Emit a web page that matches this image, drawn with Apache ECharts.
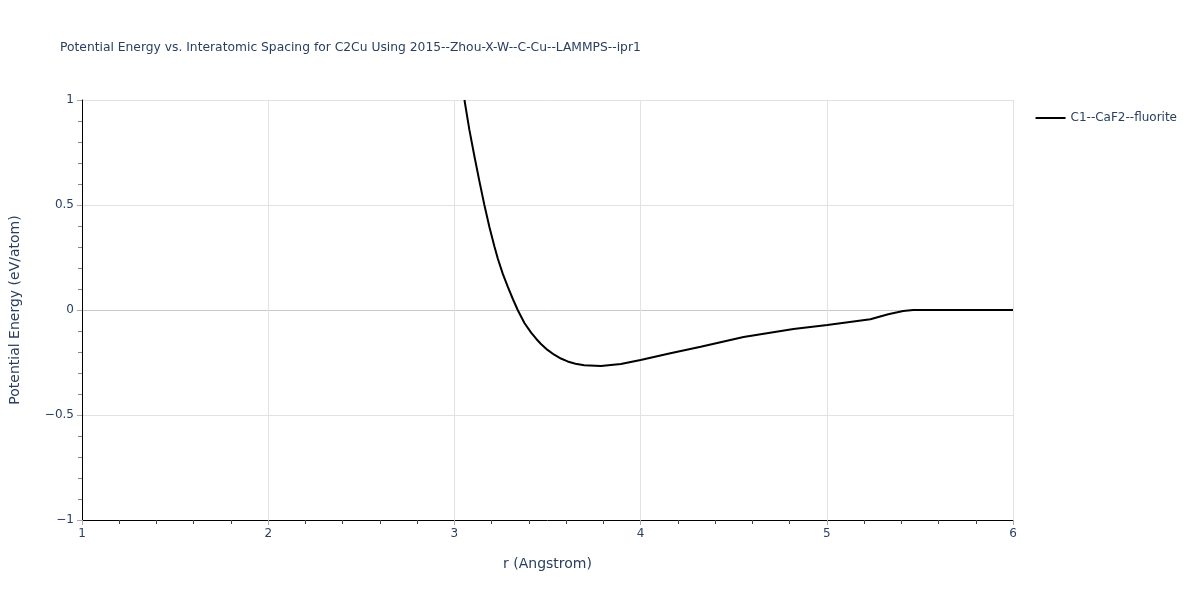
<!DOCTYPE html>
<html>
<head>
<meta charset="utf-8">
<script src="https://cdn.jsdelivr.net/npm/echarts@6/dist/echarts.min.js"></script>
<style>html,body{margin:0;padding:0;background:#fff;}#c{width:1200px;height:600px;}</style>
</head>
<body>
<div id="c"></div>
<script>
const seriesName = 'C1--CaF2--fluorite';
const rValues = [3.054, 3.08, 3.108, 3.135, 3.161, 3.188, 3.215, 3.233, 3.26, 3.287, 3.315, 3.34, 3.376, 3.412, 3.44, 3.465, 3.5, 3.536, 3.572, 3.608, 3.65, 3.697, 3.787, 3.894, 4.0, 4.16, 4.323, 4.553, 4.821, 5.003, 5.234, 5.33, 5.41, 5.464, 5.6, 6.0];
const energyValues = [1.0, 0.86, 0.73, 0.61, 0.5, 0.395, 0.302, 0.245, 0.172, 0.11, 0.05, 0.0, -0.062, -0.108, -0.138, -0.162, -0.19, -0.213, -0.231, -0.245, -0.256, -0.263, -0.267, -0.257, -0.238, -0.206, -0.175, -0.129, -0.09, -0.071, -0.044, -0.02, -0.005, 0.0, 0.0, 0.0];
const xTicks = [1, 2, 3, 4, 5, 6];
const yTicks = [-1, -0.5, 0, 0.5, 1];

const font = '"DejaVu Sans", verdana, sans-serif';
const txt = '#2a3f5f';
const chart = echarts.init(document.getElementById('c'));
chart.setOption({
  animation: false,
  backgroundColor: '#fff',
  title: {
    text: 'Potential Energy vs. Interatomic Spacing for C2Cu Using 2015--Zhou-X-W--C-Cu--LAMMPS--ipr1',
    left: 55, top: 37,
    textStyle: {fontFamily: font, fontSize: 12.3, fontWeight: 'normal', color: txt}
  },
  legend: {
    right: 18, top: 107, orient: 'vertical',
    itemWidth: 30, itemHeight: 2,
    textStyle: {fontFamily: font, fontSize: 12, color: txt},
    data: [{name: seriesName, icon: 'rect'}]
  },
  grid: {left: 80, right: 187, top: 100, bottom: 80, containLabel: false},
  xAxis: {
    type: 'value', min: xTicks[0], max: xTicks[xTicks.length - 1], interval: 1,
    name: 'r (Angstrom)', nameLocation: 'middle', nameGap: 37,
    nameTextStyle: {fontFamily: font, fontSize: 14, color: txt},
    axisLine: {show: true, onZero: false, lineStyle: {color: '#000', width: 1}},
    axisTick: {show: true, length: 5, lineStyle: {color: '#aaa', width: 1}},
    minorTick: {show: true, splitNumber: 5, length: 4, lineStyle: {color: '#444'}},
    axisLabel: {fontFamily: font, fontSize: 12, color: txt, margin: 8},
    splitLine: {show: true, lineStyle: {color: '#e2e2e2', width: 1}}
  },
  yAxis: {
    type: 'value', min: yTicks[0], max: yTicks[yTicks.length - 1], interval: 0.5,
    name: 'Potential Energy (eV/atom)', nameLocation: 'middle', nameGap: 60,
    nameTextStyle: {fontFamily: font, fontSize: 14, color: txt},
    axisLine: {show: true, onZero: false, lineStyle: {color: '#000', width: 1}},
    axisTick: {show: true, length: 5, lineStyle: {color: '#aaa', width: 1}},
    minorTick: {show: true, splitNumber: 5, length: 4, lineStyle: {color: '#888'}},
    axisLabel: {fontFamily: font, fontSize: 12, color: txt, margin: 8,
      formatter: v => (v < 0 ? '\u2212' + Math.abs(v) : String(v))},
    splitLine: {show: true, lineStyle: {color: ['#e2e2e2', '#e2e2e2', '#c8c8c8', '#e2e2e2', '#e2e2e2'], width: 1}}
  },
  series: [{
    name: seriesName, type: 'line', symbol: 'none', smooth: false,
    lineStyle: {color: '#000', width: 2}, itemStyle: {color: '#000'},
    data: rValues.map((r, i) => [r, energyValues[i]])
  }]
});
</script>
</body>
</html>
